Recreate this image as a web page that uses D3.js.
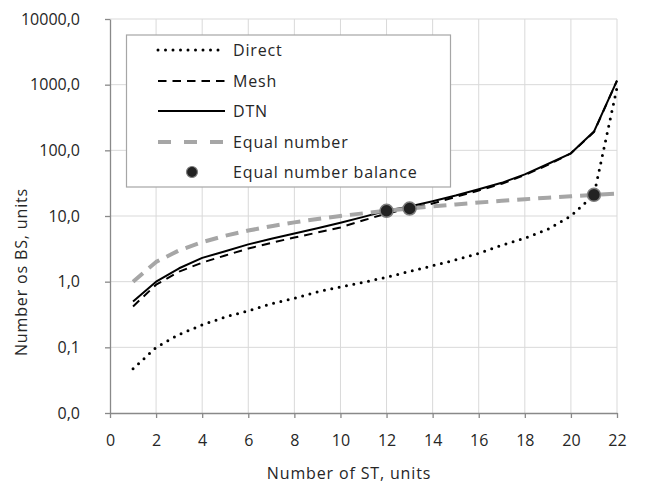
<!DOCTYPE html>
<html>
<head>
<meta charset="utf-8">
<script src="https://cdn.jsdelivr.net/npm/d3@7"></script>
<style>
  html, body { margin: 0; padding: 0; background: #fff; }
  svg { display: block; }
  text { font-family: "Open Sans", sans-serif; fill: #262626; }
</style>
</head>
<body>
<svg id="chart" width="645" height="486"></svg>
<script>
// Number of stations (ST) on the x axis
const stations = [1, 2, 3, 4, 5, 6, 7, 8, 9, 10, 11, 12, 13, 14, 15, 16, 17, 18, 19, 20, 21, 22];

// Number of base stations (BS) needed per topology
const direct = [0.047, 0.1, 0.157, 0.22, 0.29, 0.36, 0.46, 0.56, 0.7, 0.83, 0.98, 1.17, 1.43, 1.75, 2.15, 2.7, 3.6, 4.6, 6.3, 10, 21, 900];
const mesh   = [0.42, 0.9, 1.42, 1.95, 2.5, 3.2, 3.9, 4.7, 5.6, 6.7, 8.6, 10.9, 13.0, 15.5, 19.5, 24.5, 31, 42, 60, 90, 190, 1150];
const dtn    = [0.5, 1.0, 1.6, 2.3, 2.9, 3.7, 4.5, 5.4, 6.5, 7.9, 9.7, 12.0, 14.0, 16.8, 20.5, 25.5, 32, 43, 62, 90, 193, 1150];
const equalNumber = [1, 2, 3, 4, 5, 6, 7, 8, 9, 10, 11, 12, 13, 14, 15, 16, 17, 18, 19, 20, 21, 22];

// Points where a topology's curve meets the equal-number line
const balanceX = [12, 13, 21];
const balanceY = [12, 13, 21];

// Axis ticks
const xTicks = [0, 2, 4, 6, 8, 10, 12, 14, 16, 18, 20, 22];
const yTicks = [0.01, 0.1, 1, 10, 100, 1000, 10000];

const legendLabels = ["Direct", "Mesh", "DTN", "Equal number", "Equal number balance"];

const svg = d3.select("#chart");
const plotLeft = 110, plotRight = 617, plotTop = 19, plotBottom = 413;

const x = d3.scaleLinear().domain([0, 22]).range([plotLeft, plotRight]);
const y = d3.scaleLog().domain([0.01, 10000]).range([plotBottom, plotTop]);

const fmt = v => d3.format(".1f")(v).replace(".", ",");

// Gridlines
const grid = svg.append("g").attr("stroke", "#d9d9d9").attr("stroke-width", 1);
grid.selectAll("line.v").data(xTicks.filter(d => d > 0)).join("line")
  .attr("class", "v")
  .attr("x1", d => x(d)).attr("x2", d => x(d))
  .attr("y1", plotTop).attr("y2", plotBottom);
grid.selectAll("line.h").data(yTicks.filter(d => d > 0.01)).join("line")
  .attr("class", "h")
  .attr("x1", plotLeft).attr("x2", plotRight)
  .attr("y1", d => y(d)).attr("y2", d => y(d));

// Axes
const yAxis = svg.append("g").attr("transform", `translate(${plotLeft},0)`)
  .call(d3.axisLeft(y).tickValues(yTicks).tickFormat(fmt).tickSize(5).tickSizeOuter(0).tickPadding(25));
const xAxis = svg.append("g").attr("transform", `translate(0,${plotBottom})`)
  .call(d3.axisBottom(x).tickValues(xTicks).tickFormat(d3.format("d")).tickSize(5).tickSizeOuter(0).tickPadding(17));
[xAxis, yAxis].forEach(g => {
  g.select(".domain").attr("stroke", "#898989").attr("stroke-width", 1.3);
  g.selectAll(".tick line").attr("stroke", "#898989").attr("stroke-width", 1.3);
  g.selectAll(".tick text").attr("font-family", "Open Sans, sans-serif")
    .attr("font-size", 16).attr("fill", "#262626");
});

// Series lines
const line = vals => d3.line().x((d, i) => x(stations[i])).y(d => y(d))(vals);

const styles = [
  { data: direct, stroke: "#000", width: 3, dash: "0 7.5", cap: "round" },
  { data: mesh, stroke: "#000", width: 2, dash: "8.5 6", cap: "butt" },
  { data: dtn, stroke: "#000", width: 2, dash: null, cap: "butt" },
  { data: equalNumber, stroke: "#a6a6a6", width: 4, dash: "13 8", cap: "butt" }
];
styles.forEach(s => {
  svg.append("path").attr("d", line(s.data))
    .attr("fill", "none").attr("stroke", s.stroke).attr("stroke-width", s.width)
    .attr("stroke-dasharray", s.dash).attr("stroke-linecap", s.cap)
    .attr("stroke-linejoin", "round");
});

// Balance markers
svg.append("g").selectAll("circle").data(balanceX).join("circle")
  .attr("cx", d => x(d)).attr("cy", (d, i) => y(balanceY[i])).attr("r", 6.5)
  .attr("fill", "#222").attr("stroke", "#7f7f7f").attr("stroke-width", 1.5);

// Legend
const lg = svg.append("g");
lg.append("rect").attr("x", 126.5).attr("y", 35).attr("width", 324).attr("height", 152)
  .attr("fill", "#fff").attr("stroke", "#a6a6a6").attr("stroke-width", 1.2);
const rowY = [50, 81, 111, 142, 172];
const sx1 = 158, sx2 = 225;
styles.forEach((s, i) => {
  lg.append("line").attr("x1", sx1).attr("x2", sx2).attr("y1", rowY[i]).attr("y2", rowY[i])
    .attr("stroke", s.stroke).attr("stroke-width", s.width)
    .attr("stroke-dasharray", i === 3 ? "13 13" : s.dash).attr("stroke-linecap", s.cap);
});
lg.append("circle").attr("cx", 192).attr("cy", rowY[4]).attr("r", 5.5)
  .attr("fill", "#222").attr("stroke", "#7f7f7f").attr("stroke-width", 1.2);
lg.selectAll("text").data(legendLabels).join("text")
  .attr("x", 233).attr("y", (d, i) => rowY[i] + 6)
  .attr("font-size", 16).attr("letter-spacing", "0.85px")
  .text(d => d);

// Axis titles
svg.append("text").attr("x", 349).attr("y", 479)
  .attr("text-anchor", "middle").attr("font-size", 16).attr("letter-spacing", "0.85px")
  .text("Number of ST, units");
svg.append("text").attr("transform", "translate(27,272) rotate(-90)")
  .attr("text-anchor", "middle").attr("font-size", 16).attr("letter-spacing", "0.85px")
  .text("Number os BS, units");
</script>
</body>
</html>
